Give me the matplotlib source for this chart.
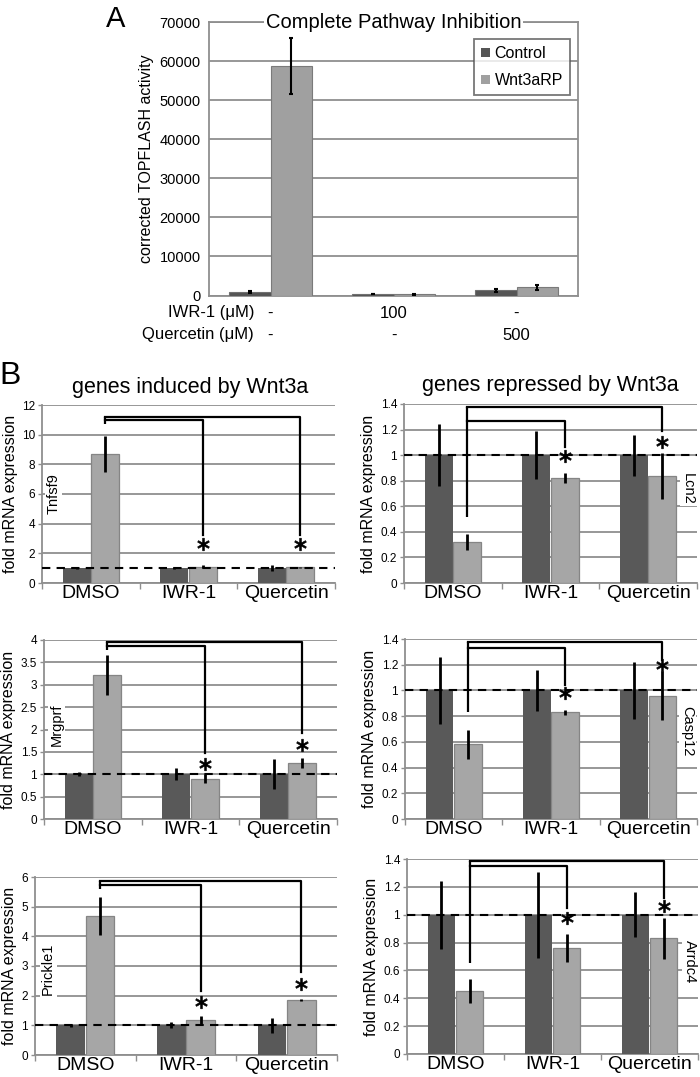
import matplotlib
matplotlib.use("Agg")
import matplotlib.pyplot as plt
from matplotlib.transforms import blended_transform_factory
from matplotlib.ticker import FuncFormatter
import numpy as np

plt.rcParams['font.family'] = ['Liberation Sans', 'DejaVu Sans']

# ---------------- data: panel A ----------------
a_series = ['Control', 'Wnt3aRP']
a_iwr = ['-', '100', '-']
a_quer = ['-', '-', '500']
a_control = [800, 350, 1300]
a_control_err = [250, 60, 450]
a_wnt = [58700, 350, 2100]
a_wnt_err = [7100, 120, 600]
a_yticks = [0, 10000, 20000, 30000, 40000, 50000, 60000, 70000]

# ---------------- data: panel B ----------------
categories = ['DMSO', 'IWR-1', 'Quercetin']
genes = ['Tnfsf9', 'Lcn2', 'Mrgprf', 'Casp12', 'Prickle1', 'Arrdc4']
ctrl_vals = {
    'Tnfsf9': [1, 1, 1], 'Lcn2': [1, 1, 1], 'Mrgprf': [1, 1, 1],
    'Casp12': [1, 1, 1], 'Prickle1': [1, 1, 1], 'Arrdc4': [1, 1, 1]}
ctrl_err = {
    'Tnfsf9': [0.05, 0.05, 0.2], 'Lcn2': [0.245, 0.19, 0.16],
    'Mrgprf': [0.04, 0.13, 0.33], 'Casp12': [0.26, 0.16, 0.22],
    'Prickle1': [0.06, 0.1, 0.25], 'Arrdc4': [0.245, 0.31, 0.16]}
wnt_vals = {
    'Tnfsf9': [8.7, 1.1, 1.05], 'Lcn2': [0.32, 0.82, 0.84],
    'Mrgprf': [3.22, 0.9, 1.25], 'Casp12': [0.58, 0.83, 0.96],
    'Prickle1': [4.7, 1.18, 1.85], 'Arrdc4': [0.45, 0.76, 0.83]}
wnt_err = {
    'Tnfsf9': [1.2, 0.1, 0.02], 'Lcn2': [0.065, 0.04, 0.18],
    'Mrgprf': [0.44, 0.1, 0.12], 'Casp12': [0.11, 0.02, 0.19],
    'Prickle1': [0.64, 0.12, 0.04], 'Arrdc4': [0.087, 0.1, 0.15]}
ymax = {'Tnfsf9': 12, 'Lcn2': 1.4, 'Mrgprf': 4, 'Casp12': 1.4, 'Prickle1': 6, 'Arrdc4': 1.4}
ystep = {'Tnfsf9': 2, 'Lcn2': 0.2, 'Mrgprf': 0.5, 'Casp12': 0.2, 'Prickle1': 1, 'Arrdc4': 0.2}
# significance brackets: (outer top, inner top, left foot, IWR foot, Quercetin foot, IWR star, Quercetin star)
brackets = {
    'Tnfsf9': (11.2, 11.0, 10.75, 3.25, 3.25, 2.6, 2.6),
    'Lcn2': (1.374, 1.264, 0.52, 1.064, 1.187, 0.99, 1.1),
    'Mrgprf': (3.95, 3.87, 3.78, 1.47, 1.92, 1.23, 1.66),
    'Casp12': (1.377, 1.33, 0.83, 1.045, 1.24, 0.98, 1.2),
    'Prickle1': (5.85, 5.74, 5.6, 2.17, 2.79, 1.8, 2.4),
    'Arrdc4': (1.388, 1.35, 0.65, 1.048, 1.12, 0.976, 1.06)}

W, H = 700, 1077
fig = plt.figure(figsize=(W / 100, H / 100), dpi=100)


def px_axes(l, t, r, b):
    return fig.add_axes([l / W, 1 - b / H, (r - l) / W, (b - t) / H])


DARK = '#595959'
LIGHT = '#a6a6a6'
GRID = '#8f8f8f'

# ---------------- Panel A ----------------
axA = px_axes(209, 22, 578, 295.5)
x = np.arange(len(a_iwr))
wA = 0.335
axA.bar(x - wA / 2, a_control, wA, color='#555555', edgecolor='#707070', linewidth=0.8,
        yerr=a_control_err, error_kw=dict(ecolor='black', elinewidth=1.5, capsize=1.5, capthick=1.5),
        label=a_series[0], zorder=3)
axA.bar(x + wA / 2, a_wnt, wA, color='#a0a0a0', edgecolor='#7a7a7a', linewidth=0.8,
        yerr=a_wnt_err, error_kw=dict(ecolor='black', elinewidth=1.5, capsize=1.5, capthick=1.5),
        label=a_series[1], zorder=3)
axA.set_xlim(-0.5, 2.5)
axA.set_ylim(0, 70000)
axA.set_yticks(a_yticks)
axA.set_yticklabels([str(v) for v in a_yticks], fontsize=10.5)
axA.tick_params(axis='y', length=0, pad=6)
axA.set_xticks([])
axA.grid(axis='y', color=GRID, linewidth=1.3, zorder=0)
for s in axA.spines.values():
    s.set_color(GRID)
    s.set_linewidth(1.3)
axA.set_ylabel('corrected TOPFLASH activity', fontsize=11.5, labelpad=4)
axA.text(0.5, 1.0, 'Complete Pathway Inhibition', transform=axA.transAxes,
         ha='center', va='center', fontsize=14.5,
         bbox=dict(facecolor='white', edgecolor='none', pad=1.5), zorder=5)
leg = axA.legend(loc='upper right', bbox_to_anchor=(570 / W, 1 - 39 / H),
                 bbox_transform=fig.transFigure, fontsize=11.5, frameon=True,
                 fancybox=False, handlelength=0.55, handleheight=0.55,
                 handletextpad=0.3, borderpad=0.45, labelspacing=0.75, borderaxespad=0)
leg.get_frame().set_edgecolor('#555555')
leg.get_frame().set_linewidth(1.3)
for h in leg.legend_handles:
    h.set_edgecolor('none')

trA = blended_transform_factory(axA.transData, fig.transFigure)
fig.text(254 / W, 1 - 313 / H, 'IWR-1 (\u03bcM)', ha='right', va='center', fontsize=12)
fig.text(254 / W, 1 - 335 / H, 'Quercetin (\u03bcM)', ha='right', va='center', fontsize=12)
for i in range(len(a_iwr)):
    axA.text(x[i], 1 - 313 / H, a_iwr[i], transform=trA, ha='center', va='center', fontsize=12)
    axA.text(x[i], 1 - 335 / H, a_quer[i], transform=trA, ha='center', va='center', fontsize=12)

fig.text(116 / W, 1 - 27 / H, 'A', ha='center', va='baseline', fontsize=21)
fig.text(10 / W, 1 - 384 / H, 'B', ha='center', va='baseline', fontsize=23)

# ---------------- Panel B ----------------
boxes = {
    'Tnfsf9': (42, 405, 335, 583),
    'Lcn2': (404, 404, 697, 583),
    'Mrgprf': (44, 640, 337, 819),
    'Casp12': (405, 639, 697, 819),
    'Prickle1': (35, 877, 337, 1055),
    'Arrdc4': (407, 859, 698, 1054)}
gene_label_pos = {
    'Tnfsf9': (-0.38, 6.0, 90), 'Lcn2': (2.41, 0.74, 270),
    'Mrgprf': (-0.37, 2.1, 90), 'Casp12': (2.40, 0.68, 270),
    'Prickle1': (-0.37, 2.9, 90), 'Arrdc4': (2.42, 0.66, 270)}

wB = 0.285
offB = 0.145
fmt = FuncFormatter(lambda v, p: f'{v:g}')
for g in genes:
    ax = px_axes(*boxes[g])
    xb = np.arange(len(categories))
    ax.bar(xb - offB, ctrl_vals[g], wB, color=DARK, edgecolor='none',
           yerr=ctrl_err[g], error_kw=dict(ecolor='black', elinewidth=2, capsize=0), zorder=3)
    ax.bar(xb + offB, wnt_vals[g], wB, color=LIGHT, edgecolor='#858585', linewidth=0.9,
           yerr=wnt_err[g], error_kw=dict(ecolor='black', elinewidth=2, capsize=0), zorder=3)
    ax.set_xlim(-0.5, 2.5)
    ax.set_ylim(0, ymax[g])
    ax.set_yticks(np.arange(0, ymax[g] + ystep[g] / 2, ystep[g]))
    ax.yaxis.set_major_formatter(fmt)
    ax.tick_params(axis='y', labelsize=8.5, length=3, width=1, color=GRID, pad=2)
    ax.set_xticks(xb)
    ax.set_xticklabels(categories, fontsize=14)
    ax.set_xticks([-0.5, 0.5, 1.5, 2.5], minor=True)
    ax.tick_params(axis='x', which='major', length=0, pad=1.5)
    ax.tick_params(axis='x', which='minor', length=4, width=1, color=GRID)
    ax.grid(axis='y', color=GRID, linewidth=1.3, zorder=0)
    ax.spines['top'].set_visible(False)
    ax.spines['right'].set_visible(False)
    for s in ('left', 'bottom'):
        ax.spines[s].set_color(GRID)
        ax.spines[s].set_linewidth(1.3)
    ax.set_ylabel('fold mRNA expression', fontsize=11.5, labelpad=3)
    ax.axhline(1, color='black', linewidth=1.5, linestyle=(0, (4, 3)), zorder=4)

    outer, inner, lfoot, ifoot, qfoot, istar, qstar = brackets[g]
    xl, xi, xq = xb[0] + offB, xb[1] + offB, xb[2] + offB
    lw = 1.6
    ax.plot([xl, xl], [lfoot, outer], color='black', lw=lw, zorder=5, solid_capstyle='butt')
    ax.plot([xl, xq, xq], [outer, outer, qfoot], color='black', lw=lw, zorder=5)
    ax.plot([xl, xi, xi], [inner, inner, ifoot], color='black', lw=lw, zorder=5)
    ax.plot([xi, xq], [istar, qstar], linestyle='none', marker=r'$\ast$',
            markersize=9, color='black', markeredgewidth=0.5, zorder=6)

    gx, gy, rot = gene_label_pos[g]
    ax.text(gx, gy, g, rotation=rot, ha='center', va='center', fontsize=10.5, zorder=6,
            bbox=dict(facecolor='white', edgecolor='none', pad=1))

    if g == 'Tnfsf9':
        fig.text(190 / W, 1 - 387 / H, 'genes induced by Wnt3a', ha='center', va='center', fontsize=15.5)
    if g == 'Lcn2':
        fig.text(550 / W, 1 - 385 / H, 'genes repressed by Wnt3a', ha='center', va='center', fontsize=15.5)

fig.savefig('out.png', dpi=100)
